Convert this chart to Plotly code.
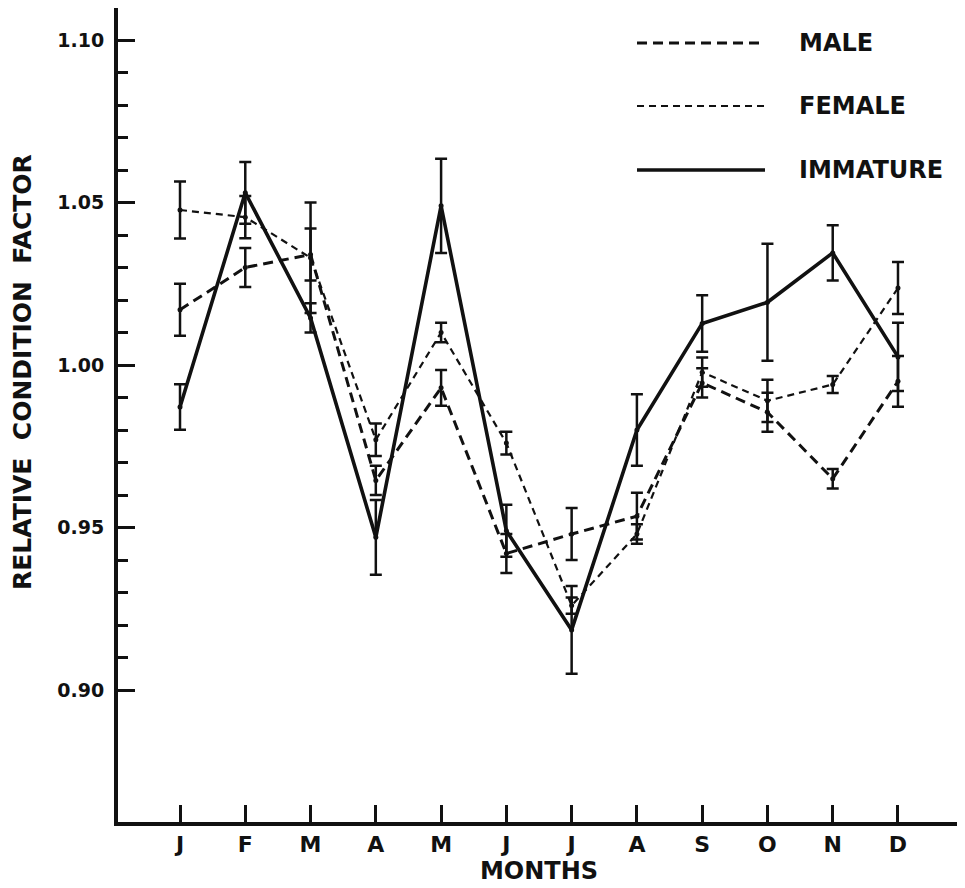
import plotly.graph_objects as go

months = ["J", "F", "M", "A", "M", "J", "J", "A", "S", "O", "N", "D"]
month_pos = list(range(12))

male = [1.017, 1.030, 1.034, 0.9645, 0.993, 0.942, 0.948, 0.9535, 0.9945, 0.9855, 0.965, 0.995]
male_err = [0.008, 0.006, 0.008, 0.0045, 0.0055, 0.006, 0.008, 0.0072, 0.0045, 0.006, 0.003, 0.0078]

female = [1.0477, 1.0455, 1.033, 0.977, 1.010, 0.976, 0.926, 0.948, 0.9978, 0.989, 0.994, 1.0237]
female_err = [0.0088, 0.0065, 0.017, 0.005, 0.003, 0.0035, 0.0025, 0.003, 0.0045, 0.0065, 0.0026, 0.008]

immature = [0.9871, 1.053, 1.0145, 0.947, 1.049, 0.949, 0.9185, 0.980, 1.0128, 1.0193, 1.0345, 1.0025]
immature_err = [0.007, 0.0095, 0.0045, 0.0115, 0.0145, 0.008, 0.0135, 0.011, 0.0087, 0.018, 0.0085, 0.0105]

y_major = [0.90, 0.95, 1.00, 1.05, 1.10]
y_major_text = ["0.90", "0.95", "1.00", "1.05", "1.10"]
y_minor = [round(0.90 + 0.01 * i, 2) for i in range(21) if i % 5 != 0]

FONT = "DejaVu Sans"
BLACK = "#111111"
NB = "\u00a0"

series = [
    ("MALE", male, male_err, dict(width=3, dash="10px,6px")),
    ("FEMALE", female, female_err, dict(width=2.2, dash="7px,5px")),
    ("IMMATURE", immature, immature_err, dict(width=3.6, dash="solid")),
]

fig = go.Figure()
for name, vals, errs, ls in series:
    fig.add_trace(go.Scatter(
        x=month_pos, y=vals, name=name, mode="lines+markers",
        line=dict(color=BLACK, width=ls["width"], dash=ls["dash"]),
        marker=dict(size=5, color=BLACK),
        error_y=dict(type="data", array=errs, visible=True,
                     color=BLACK, thickness=2.5, width=6),
        showlegend=False,
    ))

# manual legend (line samples + labels)
legend_y = [0.957, 0.8796, 0.801]
for (name, vals, errs, ls), ly in zip(series, legend_y):
    fig.add_shape(type="line", xref="paper", yref="paper",
                  x0=0.6164, x1=0.7684, y0=ly, y1=ly,
                  line=dict(color=BLACK, width=ls["width"], dash=ls["dash"]))
    fig.add_annotation(xref="paper", yref="paper", x=0.8064, y=ly,
                       xanchor="left", yanchor="middle", text=name,
                       showarrow=False,
                       font=dict(family=FONT, size=24, color=BLACK, weight="bold"))

# y-axis title as annotation (positioned like the original)
fig.add_annotation(xref="paper", yref="paper", x=-0.114, y=0.5528,
                   xanchor="center", yanchor="middle",
                   text="RELATIVE" + NB * 2 + "CONDITION" + NB * 2 + "FACTOR",
                   textangle=-90, showarrow=False,
                   font=dict(family=FONT, size=25, color=BLACK, weight="bold"))

fig.update_layout(
    width=965, height=888,
    margin=dict(l=110, r=13, t=0, b=74, autoexpand=False),
    paper_bgcolor="white", plot_bgcolor="white",
    font=dict(family=FONT, color=BLACK),
    xaxis=dict(
        range=[-0.95, 11.95], tickmode="array", tickvals=month_pos, ticktext=months,
        showgrid=False, zeroline=False,
        showline=True, linecolor=BLACK, linewidth=4,
        ticks="inside", ticklen=17, tickwidth=2.5, tickcolor=BLACK,
        tickfont=dict(family=FONT, size=22, color=BLACK, weight="bold"),
        title=dict(text="MONTHS", standoff=2,
                   font=dict(family=FONT, size=24, color=BLACK, weight="bold")),
    ),
    yaxis=dict(
        range=[0.8594, 1.10985], tickmode="array", tickvals=y_major, ticktext=y_major_text,
        showgrid=False, zeroline=False,
        showline=True, linecolor=BLACK, linewidth=4,
        ticks="inside", ticklen=17, tickwidth=2.5, tickcolor=BLACK,
        tickfont=dict(family=FONT, size=19, color=BLACK, weight="bold"),
        ticklabelstandoff=6,
        minor=dict(tickvals=y_minor, ticks="inside", ticklen=10, tickwidth=2.5,
                   tickcolor=BLACK, showgrid=False),
    ),
)

fig.write_html("out.html")
